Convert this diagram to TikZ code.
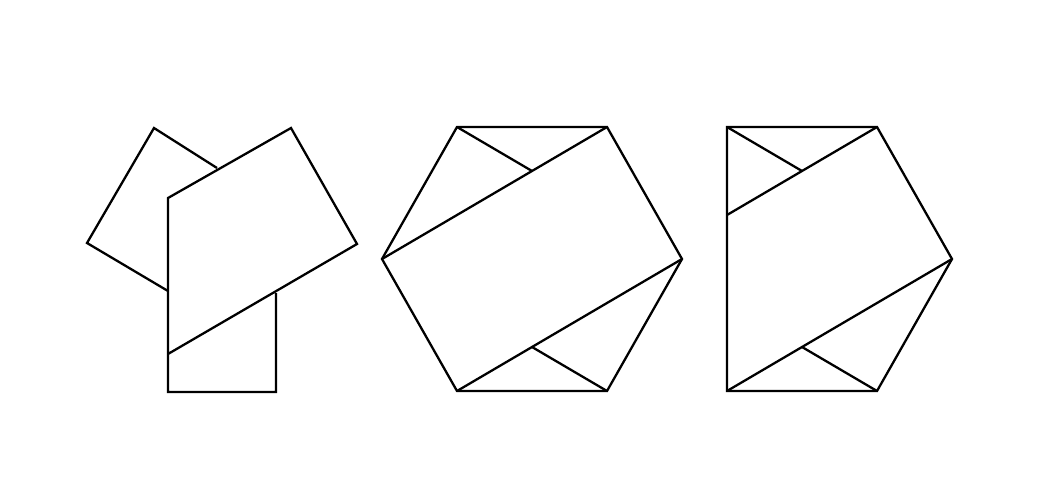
\documentclass[tikz,border=0pt]{standalone}
\usepackage{tikz}
\usetikzlibrary{positioning}

\begin{document}
\begin{tikzpicture}[x=0.02cm,y=-0.02cm,line width=1.3pt,line join=miter]
	  \useasboundingbox (0,0) rectangle (1060,500);
	  % left figure
	  \coordinate (P1) at (154,128);
	  \coordinate (P2) at (87,243);
	  \coordinate (P3) at (168,291);
	  \coordinate (N) at (217,168);
	  \coordinate (R1) at (168,198);
	  \coordinate (R2) at (168,392);
	  \coordinate (R3) at (276,392);
	  \coordinate (R4) at (276,293);
	  \coordinate (Q1) at (291,128);
	  \coordinate (Q2) at (357,244);
	  \coordinate (Q3) at (168,354);
	  \draw (N) -- (P1) -- (P2) -- (P3);
	  \draw (R4) -- (R3) -- (R2) -- (R1) -- (Q1) -- (Q2) -- (Q3);
	  % middle figure
	  \coordinate (H1) at (457,127);
	  \coordinate (H2) at (607,127);
	  \coordinate (H3) at (682,259);
	  \coordinate (H4) at (607,391);
	  \coordinate (H5) at (457,391);
	  \coordinate (H6) at (382,259);
	  \coordinate (X1) at (532,171);
	  \coordinate (X2) at (532,347);
	  \draw (H1) -- (H2) -- (H3) -- (H4) -- (H5) -- (H6) -- cycle;
	  \draw (H6) -- (H2);
	  \draw (H1) -- (X1);
	  \draw (H5) -- (H3);
	  \draw (H4) -- (X2);
	  % right figure
	  \coordinate (K1) at (727,127);
	  \coordinate (K2) at (877,127);
	  \coordinate (K3) at (952,259);
	  \coordinate (K4) at (877,391);
	  \coordinate (K5) at (727,391);
	  \coordinate (K6) at (727,215);
	  \coordinate (Y1) at (802,171);
	  \coordinate (Y2) at (802,347);
	  \draw (K1) -- (K2) -- (K3) -- (K4) -- (K5) -- cycle;
	  \draw (K6) -- (K2);
	  \draw (K1) -- (Y1);
	  \draw (K5) -- (K3);
	  \draw (K4) -- (Y2);
	\end{tikzpicture}
\end{document}
